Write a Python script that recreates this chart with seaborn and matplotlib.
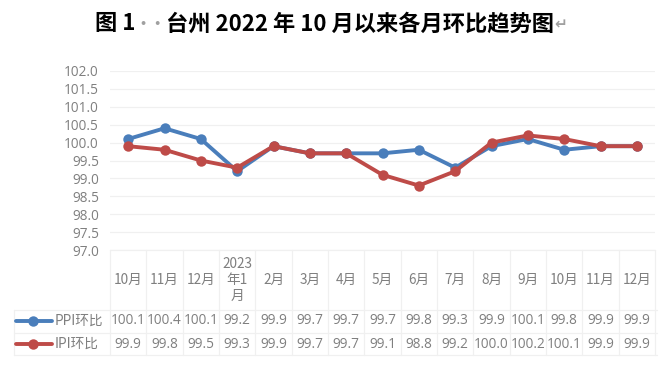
import numpy as np
import pandas as pd
import matplotlib
matplotlib.use("Agg")
import matplotlib.pyplot as plt
import matplotlib.transforms as mtransforms
import seaborn as sns

# ---- data ----
months = ['10月', '11月', '12月', '2023\n年1\n月', '2月', '3月', '4月', '5月',
          '6月', '7月', '8月', '9月', '10月', '11月', '12月']
ppi = [100.1, 100.4, 100.1, 99.2, 99.9, 99.7, 99.7, 99.7, 99.8, 99.3, 99.9, 100.1, 99.8, 99.9, 99.9]
ipi = [99.9, 99.8, 99.5, 99.3, 99.9, 99.7, 99.7, 99.1, 98.8, 99.2, 100.0, 100.2, 100.1, 99.9, 99.9]
series_names = ['PPI环比', 'IPI环比']
yticks = [97.0, 97.5, 98.0, 98.5, 99.0, 99.5, 100.0, 100.5, 101.0, 101.5, 102.0]
title_parts = [('图 1', 'black'), ('··', '#A0A0A0'), ('台州 2022 年 10 月以来各月环比趋势图', 'black'), ('↵', '#A0A0A0')]

colors = {'PPI环比': '#4A7EBB', 'IPI环比': '#BE4B48'}
text_gray = '#7F7F7F'
grid_col = '#F0F0F0'

sns.set_theme(style='white')
plt.rcParams['font.family'] = ['Noto Sans CJK SC', 'DejaVu Sans']

W, H = 666, 365
fig = plt.figure(figsize=(W / 100, H / 100), dpi=100)
L, R, T, B = 110, 655, 71, 250
ax = fig.add_axes([L / W, 1 - B / H, (R - L) / W, (B - T) / H])

n = len(months)
xs = np.arange(n)
df = pd.DataFrame({
    'x': np.concatenate([xs, xs]),
    'v': ppi + ipi,
    's': [series_names[0]] * n + [series_names[1]] * n,
})
sns.lineplot(data=df, x='x', y='v', hue='s', hue_order=series_names, palette=colors,
             marker='o', markersize=7.5, markeredgewidth=0, linewidth=2.8,
             legend=False, ax=ax, zorder=3)

ax.set_xlim(-0.5, n - 0.5)
ax.set_ylim(97.0, 102.0)
ax.set_yticks(yticks)
ax.set_yticklabels([f'{t:.1f}' for t in yticks], color=text_gray, fontsize=9.8,
                   family=['Open Sans', 'DejaVu Sans'])
ax.tick_params(axis='y', length=0, pad=8)
ax.set_xticks([])
ax.set_xlabel('')
ax.set_ylabel('')
for s in ax.spines.values():
    s.set_visible(False)
for t in yticks:
    ax.axhline(t, color=grid_col, lw=0.9, zorder=0)

# ---- data table ----
trans = mtransforms.blended_transform_factory(ax.transData, fig.transFigure)
def fy(py):
    return 1 - py / H

y_top, y_hdr_bot, y_mid, y_bot = 250, 310, 333, 355
for k in range(n + 1):
    ax.plot([k - 0.5, k - 0.5], [fy(y_top), fy(y_bot)], transform=trans,
            color=grid_col, lw=0.9, clip_on=False)
ax.plot([-0.5, n - 0.5], [fy(y_top)] * 2, transform=trans, color=grid_col, lw=0.9, clip_on=False)
for yy in (y_hdr_bot, y_mid, y_bot):
    fig.add_artist(plt.Line2D([14 / W, (R + 2) / W], [fy(yy)] * 2, color=grid_col, lw=0.9))
fig.add_artist(plt.Line2D([14 / W, 14 / W], [fy(y_hdr_bot), fy(y_bot)], color=grid_col, lw=0.9))

hdr_y = fy(280)
for i, m in enumerate(months):
    ax.text(i, hdr_y, m, transform=trans, ha='center', va='center', color=text_gray,
            fontsize=9.8, linespacing=1.15, clip_on=False,
            family=['Noto Sans CJK SC', 'DejaVu Sans'])

row_y = [fy(321), fy(344)]
for vals, yy in zip([ppi, ipi], row_y):
    for i, v in enumerate(vals):
        ax.text(i, yy, f'{v:.1f}', transform=trans, ha='center', va='center',
                color=text_gray, fontsize=9.8, clip_on=False,
                family=['Open Sans', 'DejaVu Sans'])

for name, yy in zip(series_names, row_y):
    fig.add_artist(plt.Line2D([16 / W, 52 / W], [yy, yy], color=colors[name], lw=2.8))
    fig.add_artist(plt.Line2D([33 / W], [yy], color=colors[name], marker='o',
                              markersize=7.5, markeredgewidth=0))
    fig.text(55 / W, yy, name, ha='left', va='center', color=text_gray, fontsize=9.8,
             family=['Noto Sans CJK SC', 'DejaVu Sans'])

# ---- title (pieces) ----
fig.canvas.draw()
renderer = fig.canvas.get_renderer()
pieces = []
for txt, col in title_parts:
    size = 16 if col == 'black' else 11
    t = fig.text(0, fy(24), txt, ha='left', va='center', color=col, fontsize=size,
                 fontweight='bold', family=['Noto Sans CJK SC', 'DejaVu Sans'])
    pieces.append(t)
widths = [p.get_window_extent(renderer).width for p in pieces]
total = sum(widths)
x0 = 331 - total / 2
for p, w in zip(pieces, widths):
    p.set_x(x0 / W)
    x0 += w

fig.savefig('out.png', dpi=100, facecolor='white')
